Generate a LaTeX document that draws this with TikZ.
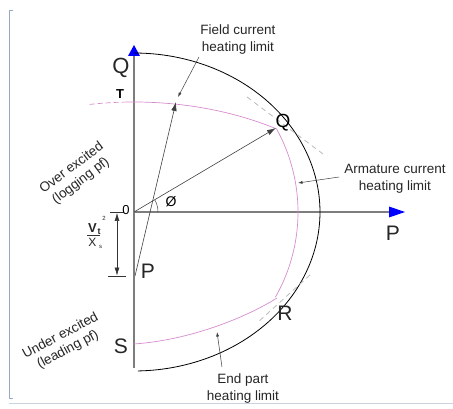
\documentclass[tikz,border=0pt]{standalone}
\usepackage{fontspec}
\setmainfont{Liberation Sans}
\usetikzlibrary{arrows.meta}
\definecolor{pinkarc}{RGB}{214,140,206}
\definecolor{axisgray}{RGB}{125,125,125}
\definecolor{framecol}{RGB}{150,170,195}
\begin{document}
\begin{tikzpicture}[x=1pt,y=-1pt,
 lbl/.style={inner sep=0pt, font=\fontsize{13.5}{17}\selectfont, align=center, text=black!85},
 big/.style={inner sep=0pt, font=\fontsize{21}{21}\selectfont, text=black!85},
 pinkline/.style={draw=pinkarc, line width=0.7pt},
 guide/.style={draw=gray!55, dash pattern=on 5pt off 4pt, line width=0.8pt},
 vec/.style={draw=black!75, line width=0.6pt, -{Latex[length=9pt,width=5.5pt]}},
 leader/.style={draw=black!75, line width=0.5pt, -{Latex[length=4.5pt,width=3pt]}},
 axis/.style={draw=axisgray, line width=1.2pt},
 small/.style={inner sep=0pt, text=black!85},
]
\useasboundingbox (0,0) rectangle (453,409);
% frame remnants
\draw[framecol, line width=0.6pt] (13,10) -- (9,10) -- (9,398) -- (13,398);
\draw[framecol!50, line width=0.5pt] (9,403) -- (453,403);

% coordinates
\coordinate (O) at (134,212);
\coordinate (Ptop) at (134,52);
\coordinate (Pbot) at (134,368);
\coordinate (Xend) at (392,212);
\coordinate (Pp) at (135,276);
\coordinate (Qp) at (276,128);
\coordinate (Ft) at (176,102);
\coordinate (Rp) at (277,298);
\coordinate (Sp) at (134,344);

% axes
\draw[axis] (Pbot) -- (Ptop);
\draw[axis] (O) -- (Xend);
\fill[blue] (134,45) -- (128,56) -- (140,56) -- cycle;
\fill[blue] (405,212) -- (389,206.5) -- (389,217.5) -- cycle;

% armature current limit (black)
\draw[black, line width=0.8pt] plot[domain=90:-88.8, samples=120] ({134+186*cos(\x)},{212-159*sin(\x)});

% field current limit (pink)
\draw[pinkline, dash pattern=on 5pt off 3pt] plot[domain=99.5:92.5, samples=20] ({134+269*cos(\x)},{279-177*sin(\x)});
\draw[pinkline] plot[domain=92.5:58.2, samples=80] ({134+269*cos(\x)},{279-177*sin(\x)});
% armature pink arc
\draw[pinkline] plot[domain=29.8:-30.5, samples=80] ({134+164*cos(\x)},{212-168*sin(\x)});
% end part
\draw[pinkline] (Sp) .. controls (190,340) and (245,318) .. (Rp);

% guide dashed lines
\draw[guide] (247,97) -- (323,154);
\draw[guide] (310,275) -- (257,323);

% vectors
\draw[vec] (O) -- (Qp);
\draw[vec] (Pp) -- (Ft);
\draw[black!75, line width=0.5pt] plot[domain=0:30, samples=20] ({134+24*cos(\x)},{212-24*sin(\x)});

% dimension
\coordinate (dT) at (117,213);
\coordinate (dB) at (117,275.5);
\draw[black!80, line width=0.6pt, {Latex[length=8pt,width=5pt]}-{Latex[length=8pt,width=5pt]}] (dT) -- (dB);
\draw[black!80, line width=0.6pt] (110,212) -- (124,212);
\draw[black!80, line width=0.6pt] (108,276) -- (126,276);
\node[small, font=\fontsize{13}{13}\selectfont\bfseries] (vV) at (92.5,228) {V};
\node[small, font=\fontsize{9}{9}\selectfont\bfseries] (vt) at (99,231.5) {t};
\node[small, font=\fontsize{6}{6}\selectfont] (v2) at (104,218) {2};
\draw[black!80, line width=0.7pt] (87,235) -- (100,235);
\node[small, font=\fontsize{12}{12}\selectfont] (vX) at (92.5,242) {X};
\node[small, font=\fontsize{6}{6}\selectfont] (vs) at (100.5,246.5) {s};

% labels
\node[big, font=\fontsize{22}{22}\selectfont] (qax) at (121,68) {Q};
\node[inner sep=0pt, font=\fontsize{13}{13}\selectfont\bfseries] (tl) at (120,94) {T};
\node[inner sep=0pt, font=\fontsize{13}{13}\selectfont] (zl) at (126,210) {0};
\node[inner sep=0pt, font=\fontsize{14}{14}\selectfont] (phi) at (171,202) {Ø};
\node[big] (pl) at (148,271) {P};
\node[big] (sl) at (121,346) {S};
\node[big] (rl) at (285,313) {R};
\node[big] (pax) at (393,233) {P};
\node[inner sep=0pt, font=\fontsize{19}{19}\selectfont] (ql) at (283,123) {Q};

\node[lbl] (field) at (238,39.5) {Field current\\heating limit};
\node[lbl] (arm) at (395,179) {Armature current\\heating limit};
\node[lbl] (endp) at (243,389) {End part\\heating limit};
\node[lbl, rotate=37] (over1) at (71,167) {Over excited};
\node[lbl, rotate=37] (over2) at (81,181) {(logging pf)};
\node[lbl, rotate=28] (under1) at (60,335) {Under excited};
\node[lbl, rotate=28] (under2) at (68,350) {(leading pf)};

% leaders
\coordinate (fl1) at (199,57);
\coordinate (fl2) at (178,97);
\draw[leader] (fl1) -- (fl2);
\coordinate (al1) at (339,177);
\coordinate (al2) at (298,183);
\draw[leader] (al1) -- (al2);
\coordinate (el1) at (222,367);
\coordinate (el2) at (217,332);
\draw[leader] (el1) -- (el2);
\end{tikzpicture}
\end{document}
